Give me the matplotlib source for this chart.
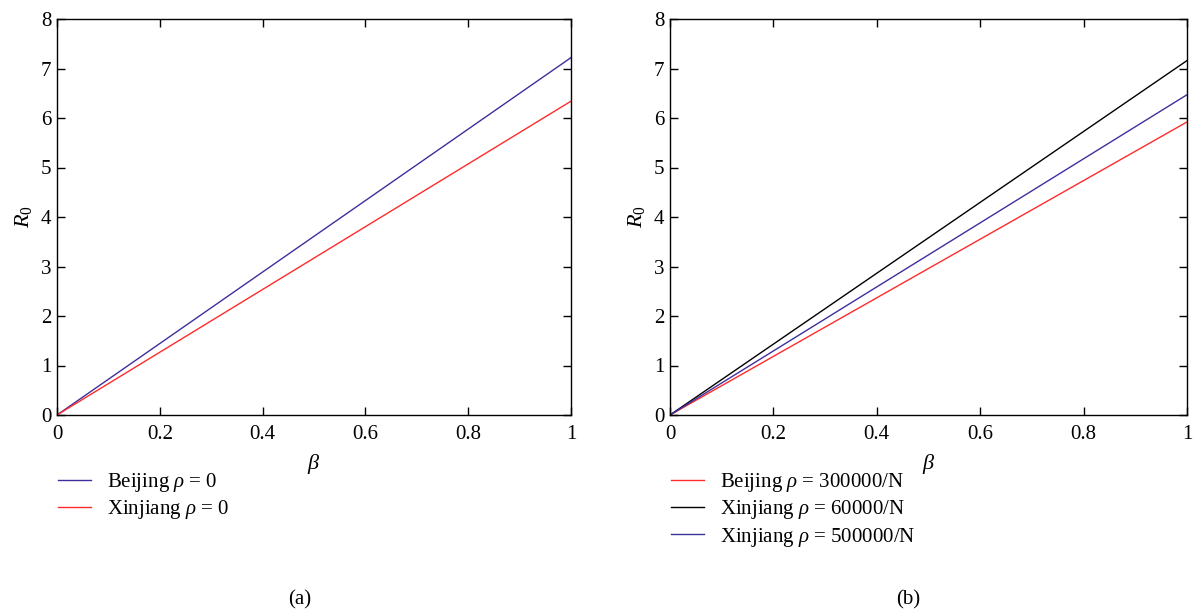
import numpy as np
import matplotlib
matplotlib.use('Agg')
import matplotlib.pyplot as plt

# data (R0 is linear in beta)
beta = [0.0, 1.0]

# panel (a)
r0_beijing_a = [0.0, 7.22]
r0_xinjiang_a = [0.0, 6.34]

# panel (b)
r0_beijing_b = [0.0, 5.92]
r0_xinjiang60k_b = [0.0, 7.16]
r0_xinjiang500k_b = [0.0, 6.47]

x_ticks = [0, 0.2, 0.4, 0.6, 0.8, 1]
x_ticklabels = ['0', '0.2', '0.4', '0.6', '0.8', '1']
y_ticks = [0, 1, 2, 3, 4, 5, 6, 7, 8]

BLUE = '#3d2f9e'
RED = '#ff2b2b'
BLACK = '#000000'

plt.rcParams['font.family'] = 'Liberation Serif'
plt.rcParams['mathtext.fontset'] = 'custom'
plt.rcParams['mathtext.rm'] = 'Liberation Serif'
plt.rcParams['mathtext.it'] = 'Liberation Serif:italic'
plt.rcParams['font.size'] = 15

fig = plt.figure(figsize=(12, 6.13), dpi=100)
W, H = 1200, 613


def make_axes(x0, x1):
    ax = fig.add_axes([x0 / W, 1 - 415 / H, (x1 - x0) / W, (415 - 19) / H])
    ax.set_xlim(0, 1)
    ax.set_ylim(0, 8)
    ax.set_xticks(x_ticks)
    ax.set_xticklabels(x_ticklabels)
    ax.set_yticks(y_ticks)
    ax.tick_params(direction='in', top=True, right=True, length=6, width=1.0,
                   labelsize=15, pad=7)
    ax.tick_params(axis='y', pad=4)
    for s in ax.spines.values():
        s.set_linewidth(1.0)
    ax.set_xlabel(r'$\beta$', fontsize=16, labelpad=6)
    ax.set_ylabel(r'$R_0$', fontsize=16, labelpad=5)
    return ax


ax1 = make_axes(57, 571)
ax1.plot(beta, r0_beijing_a, color=BLUE, lw=1.0, label=r'Beijing $\rho$ = 0')
ax1.plot(beta, r0_xinjiang_a, color=RED, lw=1.0, label=r'Xinjiang $\rho$ = 0')

ax2 = make_axes(670, 1187)
ax2.plot(beta, r0_beijing_b, color=RED, lw=1.0, label=r'Beijing $\rho$ = 300000/N')
ax2.plot(beta, r0_xinjiang60k_b, color=BLACK, lw=1.0, label=r'Xinjiang $\rho$ = 60000/N')
ax2.plot(beta, r0_xinjiang500k_b, color=BLUE, lw=1.0, label=r'Xinjiang $\rho$ = 500000/N')

for ax in (ax1, ax2):
    ax.legend(loc='upper left', bbox_to_anchor=(0.002, -0.142), frameon=False,
              fontsize=15, handlelength=1.6, handletextpad=0.75,
              labelspacing=0.2, borderaxespad=0, borderpad=0)

fig.text(300 / W, 1 - 600 / H, '(a)', ha='center', va='center', fontsize=15)
fig.text(908 / W, 1 - 600 / H, '(b)', ha='center', va='center', fontsize=15)

fig.savefig('out.png', dpi=100)
